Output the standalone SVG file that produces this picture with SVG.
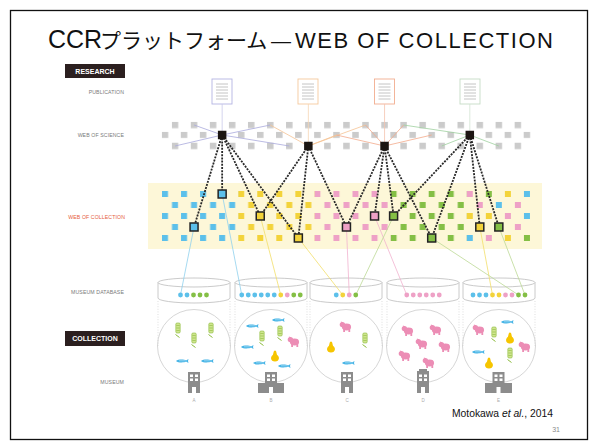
<svg xmlns="http://www.w3.org/2000/svg" xmlns:xlink="http://www.w3.org/1999/xlink" width="598" height="447" viewBox="0 0 598 447">
  <style>
    text { font-family: "Liberation Sans", Arial, sans-serif; }
    .lab { font-size: 5.2px; fill: #7a7a7a; text-anchor: end; letter-spacing: 0.1px; }
    .tag { font-size: 7px; font-weight: bold; fill: #fff; text-anchor: middle; }
    .tagbox { fill: #2b1f1f; }
    .doc rect { fill: #fff; stroke-width: 0.9; }
    .doc path { stroke: #b5b5b5; stroke-width: 0.8; fill: none; }
    .bn { fill: #1c1612; }
    .cn { stroke: #232323; stroke-width: 1.5; }
    .dash { stroke: #282828; stroke-width: 1.8; stroke-dasharray: 2 1.2; fill: none; }
    .thin { stroke-width: 0.8; fill: none; }
    .cyl { fill: none; stroke: #bdbdbd; stroke-width: 0.8; }
    .circ { fill: none; stroke: #cbcbcb; stroke-width: 0.8; }
    .dot { stroke: #d0d0d0; stroke-width: 0.7; stroke-dasharray: 1 1.6; }
    .bld { fill: #8c8c8c; }
    .win { fill: #fff; }
    .letter { font-size: 4.5px; fill: #aaa; text-anchor: middle; }
    .cB { fill: #5cc0ea; } .cY { fill: #f3d33a; } .cP { fill: #eea1c6; } .cG { fill: #84bf45; }
  </style>
  <defs>
    <!-- grey squares of the science grid -->
    <pattern id="gsA" patternUnits="userSpaceOnUse" x="171.75" y="121.75" width="19.05" height="21">
      <rect width="6.5" height="6.5" fill="#cbcbcb"/>
    </pattern>
    <pattern id="gsB" patternUnits="userSpaceOnUse" x="161.75" y="131.75" width="19.05" height="21">
      <rect width="6.5" height="6.5" fill="#cbcbcb"/>
    </pattern>
    <!-- coloured squares of the collection grid (odd + even rows per tile) -->
    <pattern id="pB" patternUnits="userSpaceOnUse" x="162" y="191" width="19.05" height="22">
      <rect width="6" height="6" fill="#5cc0ea"/><rect x="10" y="11" width="6" height="6" fill="#5cc0ea"/>
    </pattern>
    <pattern id="pY" patternUnits="userSpaceOnUse" x="162" y="191" width="19.05" height="22">
      <rect width="6" height="6" fill="#f3d33a"/><rect x="10" y="11" width="6" height="6" fill="#f3d33a"/>
    </pattern>
    <pattern id="pP" patternUnits="userSpaceOnUse" x="162" y="191" width="19.05" height="22">
      <rect width="6" height="6" fill="#eea1c6"/><rect x="10" y="11" width="6" height="6" fill="#eea1c6"/>
    </pattern>
    <pattern id="pG" patternUnits="userSpaceOnUse" x="162" y="191" width="19.05" height="22">
      <rect width="6" height="6" fill="#84bf45"/><rect x="10" y="11" width="6" height="6" fill="#84bf45"/>
    </pattern>
    <!-- specimen icons -->
    <g id="fish">
      <path d="M-6,0 C-4,-1.9 2,-1.9 4,-0.6 L6.5,-2.1 L6,0 L6.5,2.1 L4,0.6 C2,1.9 -4,1.9 -6,0Z" fill="#46b4e6"/>
      <path d="M-3,-0.2 H3" stroke="#bfe6f7" stroke-width="0.6"/>
    </g>
    <g id="plant">
      <rect x="-2.2" y="-6" width="4.4" height="10" rx="1.2" fill="#cfe58f" stroke="#8cbb3c" stroke-width="0.6"/>
      <path d="M-1.6,-3.5 H1.6 M-1.6,-1 H1.6 M-1.6,1.5 H1.6" stroke="#8cbb3c" stroke-width="0.6"/>
      <path d="M-2.5,5.5 L1.5,8.5" stroke="#8cbb3c" stroke-width="1"/>
    </g>
    <g id="pear">
      <path d="M0,-5.5 C1.6,-5.5 1.4,-2.2 2.2,-1 C4.8,0.6 4.8,5.5 0,5.5 C-4.8,5.5 -4.8,0.6 -2.2,-1 C-1.4,-2.2 -1.6,-5.5 0,-5.5Z" fill="#f6c500"/>
    </g>
    <g id="pig" fill="#ec8db5">
      <ellipse cx="0.5" cy="0" rx="4.6" ry="3.4"/>
      <circle cx="-3.6" cy="-2.4" r="2.7"/>
      <path d="M-5.2,-5.4 L-4.2,-3.2 L-2.8,-4.8Z"/>
      <rect x="-2.8" y="2" width="1.8" height="3"/>
      <rect x="2.4" y="2" width="1.8" height="3"/>
    </g>
  </defs>

  <!-- slide frame -->
  <rect x="10.5" y="10.5" width="577" height="429" fill="#fff" stroke="#111" stroke-width="1.3"/>

  <!-- title -->
  <g id="title">
    <text x="48" y="48" font-size="25" fill="#111">CCR</text>
    <text x="100" y="48" font-size="21" fill="#111" style="font-family:'Liberation Sans','Noto Sans CJK JP',sans-serif">プラットフォーム</text>
    <text x="271" y="48" font-size="20" fill="#111">—</text>
    <text x="295" y="48" font-size="22" fill="#111" textLength="258" lengthAdjust="spacing">WEB OF COLLECTION</text>
  </g>

  <!-- row labels -->
  <g id="labels">
    <rect class="tagbox" x="65" y="64" width="60" height="14"/>
    <text class="tag" x="95" y="73.6">RESEARCH</text>
    <text class="lab" x="124" y="94">PUBLICATION</text>
    <text class="lab" x="124" y="137">WEB OF SCIENCE</text>
    <text class="lab" x="125" y="219" style="fill:#e65e3c">WEB OF COLLECTION</text>
    <text class="lab" x="124" y="294">MUSEUM DATABASE</text>
    <rect class="tagbox" x="65" y="331" width="60" height="15"/>
    <text class="tag" x="95" y="341">COLLECTION</text>
    <text class="lab" x="124" y="384">MUSEUM</text>
  </g>

  <!-- publications -->
  <g id="publications">
    <g class="doc" id="pub1"><rect x="212" y="79" width="20" height="25" stroke="#b4b4e2"/><path d="M216,84h12M216,87h12M216,90h12M216,93h12M216,96h12M216,99h12"/></g>
    <g class="doc" id="pub2"><rect x="298" y="79" width="20" height="25" stroke="#f5c99d"/><path d="M302,84h12M302,87h12M302,90h12M302,93h12M302,96h12M302,99h12"/></g>
    <g class="doc" id="pub3"><rect x="374.5" y="79" width="20" height="25" stroke="#f2ae90"/><path d="M378.5,84h12M378.5,87h12M378.5,90h12M378.5,93h12M378.5,96h12M378.5,99h12"/></g>
    <g class="doc" id="pub4"><rect x="460" y="79" width="20" height="25" stroke="#c5dcc5"/><path d="M464,84h12M464,87h12M464,90h12M464,93h12M464,96h12M464,99h12"/></g>
  </g>

  <!-- web of science grid -->
  <g id="web-of-science">
    <rect x="171.75" y="121.75" width="350" height="28" fill="url(#gsA)"/>
    <rect x="161.75" y="131.75" width="369" height="6.5" fill="url(#gsB)"/>
  </g>

  <!-- web of collection band and grid -->
  <g id="web-of-collection">
    <rect x="148" y="183" width="394" height="66" fill="#fdf7d8"/>
    <rect x="162" y="191" width="76.2" height="50" fill="url(#pB)"/>
    <rect x="238.2" y="191" width="76.2" height="50" fill="url(#pY)"/>
    <rect x="314.4" y="191" width="76.2" height="50" fill="url(#pP)"/>
    <rect x="390.6" y="191" width="76.2" height="50" fill="url(#pG)"/>
    <rect class="cP" x="466.8" y="191" width="6" height="6"/>
    <rect class="cG" x="485.85" y="191" width="6" height="6"/>
    <rect class="cY" x="504.9" y="191" width="6" height="6"/>
    <rect class="cB" x="523.95" y="191" width="6" height="6"/>
    <rect class="cP" x="476.8" y="202" width="6" height="6"/>
    <rect class="cB" x="495.85" y="202" width="6" height="6"/>
    <rect class="cP" x="514.9" y="202" width="6" height="6"/>
    <rect class="cY" x="466.8" y="213" width="6" height="6"/>
    <rect class="cY" x="485.85" y="213" width="6" height="6"/>
    <rect class="cP" x="504.9" y="213" width="6" height="6"/>
    <rect class="cB" x="523.95" y="213" width="6" height="6"/>
    <rect class="cP" x="514.9" y="224" width="6" height="6"/>
    <rect class="cB" x="466.8" y="235" width="6" height="6"/>
    <rect class="cP" x="485.85" y="235" width="6" height="6"/>
    <rect class="cY" x="504.9" y="235" width="6" height="6"/>
    <rect class="cG" x="523.95" y="235" width="6" height="6"/>
  </g>

  <!-- museum databases -->
  <g id="databases">
    <g id="db-a"><ellipse class="cyl" cx="194" cy="282.5" rx="36" ry="4.5"/><path class="cyl" d="M158,282.5V298A36,5 0 0 0 230,298V282.5"/></g>
    <g id="db-b"><ellipse class="cyl" cx="271" cy="282.5" rx="36" ry="4.5"/><path class="cyl" d="M235,282.5V298A36,5 0 0 0 307,298V282.5"/></g>
    <g id="db-c"><ellipse class="cyl" cx="346" cy="282.5" rx="36" ry="4.5"/><path class="cyl" d="M310,282.5V298A36,5 0 0 0 382,298V282.5"/></g>
    <g id="db-d"><ellipse class="cyl" cx="423" cy="282.5" rx="36" ry="4.5"/><path class="cyl" d="M387,282.5V298A36,5 0 0 0 459,298V282.5"/></g>
    <g id="db-e"><ellipse class="cyl" cx="499" cy="282.5" rx="36" ry="4.5"/><path class="cyl" d="M463,282.5V298A36,5 0 0 0 535,298V282.5"/></g>
  </g>

  <!-- connectors -->
  <g id="connectors">
    <!-- publication to cited paper -->
    <path class="thin" stroke="#c8c8ea" d="M222.15,104V131"/>
    <path class="thin" stroke="#f7d6b4" d="M308.35,104V142"/>
    <path class="thin" stroke="#f5c4ae" d="M384.55,104V142"/>
    <path class="thin" stroke="#d2e4d2" d="M469.8,104V131"/>
    <!-- citation links inside the science grid -->
    <path class="thin" stroke="#a9a9dc" d="M222.15,135L194.05,125M222.15,135L175,146M222.15,135L270.25,125M222.15,135L289.3,146"/>
    <path class="thin" stroke="#f5c393" d="M308.35,146L270.25,125M308.35,146L336.45,135M308.35,146L365.5,125"/>
    <path class="thin" stroke="#f2a98a" d="M384.55,146L336.45,135M384.55,146L365.5,125M384.55,146L403.6,125M384.55,146L431.7,135"/>
    <path class="thin" stroke="#9fd09f" d="M469.8,135L403.6,125M469.8,135L441.7,146M469.8,135L498.85,146"/>
    <!-- science to collection -->
    <path class="dash" d="M222.15,135L222.15,194M222.15,135L194.05,227M222.15,135L260.25,216M222.15,135L298.35,238"/>
    <path class="dash" d="M308.35,146L260.25,216M308.35,146L298.35,238M308.35,146L346.45,227"/>
    <path class="dash" d="M384.55,146L346.45,227M384.55,146L374.55,216M384.55,146L393.6,216M384.55,146L431.7,238"/>
    <path class="dash" d="M469.8,135L393.6,216M469.8,135L431.7,238M469.8,135L479.8,227M469.8,135L498.85,227"/>
    <!-- collection to database records -->
    <path class="thin" stroke="#8fd0ee" d="M194.05,227L180.5,295M222.15,194L241.75,295"/>
    <path class="thin" stroke="#f2de6a" d="M260.25,216L280.75,295M298.35,238L342.75,295M479.8,227L492.5,295"/>
    <path class="thin" stroke="#f1b3cf" d="M346.45,227L349.25,295M374.55,216L406.75,295"/>
    <path class="thin" stroke="#bcd996" d="M393.6,216L355.75,295M431.7,238L518.5,295M498.85,227L525,295"/>
  </g>

  <!-- cited papers (black) -->
  <g id="wos-nodes">
    <rect class="bn" x="217.9" y="130.75" width="8.5" height="8.5"/>
    <rect class="bn" x="304.1" y="141.75" width="8.5" height="8.5"/>
    <rect class="bn" x="380.3" y="141.75" width="8.5" height="8.5"/>
    <rect class="bn" x="465.55" y="130.75" width="8.5" height="8.5"/>
  </g>

  <!-- cited specimens -->
  <g id="woc-nodes">
    <rect class="cn cB" x="218.15" y="190" width="8" height="8"/>
    <rect class="cn cB" x="190.05" y="223" width="8" height="8"/>
    <rect class="cn cY" x="256.25" y="212" width="8" height="8"/>
    <rect class="cn cY" x="294.35" y="234" width="8" height="8"/>
    <rect class="cn cP" x="342.45" y="223" width="8" height="8"/>
    <rect class="cn cP" x="370.55" y="212" width="8" height="8"/>
    <rect class="cn cG" x="389.6" y="212" width="8" height="8"/>
    <rect class="cn cG" x="427.7" y="234" width="8" height="8"/>
    <rect class="cn cY" x="475.8" y="223" width="8" height="8"/>
    <rect class="cn cG" x="494.85" y="223" width="8" height="8"/>
  </g>

  <!-- database records -->
  <g id="records">
    <circle class="cB" cx="180.5" cy="295" r="2.4"/><circle class="cB" cx="187" cy="295" r="2.4"/><circle class="cG" cx="193.5" cy="295" r="2.4"/><circle class="cG" cx="200" cy="295" r="2.4"/><circle class="cG" cx="206.5" cy="295" r="2.4"/>
    <circle class="cB" cx="241.75" cy="295" r="2.4"/><circle class="cB" cx="248.25" cy="295" r="2.4"/><circle class="cB" cx="254.75" cy="295" r="2.4"/><circle class="cB" cx="261.25" cy="295" r="2.4"/><circle class="cB" cx="267.75" cy="295" r="2.4"/><circle class="cB" cx="274.25" cy="295" r="2.4"/><circle class="cY" cx="280.75" cy="295" r="2.4"/><circle class="cP" cx="287.25" cy="295" r="2.4"/><circle class="cG" cx="293.75" cy="295" r="2.4"/><circle class="cG" cx="300.25" cy="295" r="2.4"/>
    <circle class="cB" cx="336.25" cy="295" r="2.4"/><circle class="cY" cx="342.75" cy="295" r="2.4"/><circle class="cP" cx="349.25" cy="295" r="2.4"/><circle class="cG" cx="355.75" cy="295" r="2.4"/>
    <circle class="cP" cx="406.75" cy="295" r="2.4"/><circle class="cP" cx="413.25" cy="295" r="2.4"/><circle class="cP" cx="419.75" cy="295" r="2.4"/><circle class="cP" cx="426.25" cy="295" r="2.4"/><circle class="cP" cx="432.75" cy="295" r="2.4"/><circle class="cP" cx="439.25" cy="295" r="2.4"/>
    <circle class="cB" cx="473" cy="295" r="2.4"/><circle class="cB" cx="479.5" cy="295" r="2.4"/><circle class="cB" cx="486" cy="295" r="2.4"/><circle class="cY" cx="492.5" cy="295" r="2.4"/><circle class="cY" cx="499" cy="295" r="2.4"/><circle class="cP" cx="505.5" cy="295" r="2.4"/><circle class="cP" cx="512" cy="295" r="2.4"/><circle class="cG" cx="518.5" cy="295" r="2.4"/><circle class="cG" cx="525" cy="295" r="2.4"/>
  </g>

  <!-- column guides -->
  <path class="dot" d="M158,301V346M230,301V346M235,301V346M307,301V346M310,301V346M382,301V346M387,301V346M459,301V346M463,301V346M535,301V346"/>

  <!-- collections -->
  <g id="collection-a">
    <circle class="circ" cx="194" cy="346" r="36.5"/>
    <use xlink:href="#plant" x="178" y="329"/><use xlink:href="#plant" x="194" y="339"/><use xlink:href="#plant" x="211" y="329"/>
    <use xlink:href="#fish" x="182" y="361"/><use xlink:href="#fish" x="207" y="361"/>
  </g>
  <g id="collection-b">
    <circle class="circ" cx="271" cy="346" r="36.5"/>
    <use xlink:href="#fish" x="278" y="320"/><use xlink:href="#fish" x="252" y="326"/><use xlink:href="#fish" x="247" y="347"/><use xlink:href="#fish" x="259" y="363"/><use xlink:href="#fish" x="284" y="366"/>
    <use xlink:href="#plant" x="262" y="337"/><use xlink:href="#plant" x="280" y="332"/>
    <use xlink:href="#pear" x="275" y="356"/>
    <use xlink:href="#pig" x="294" y="342"/>
  </g>
  <g id="collection-c">
    <circle class="circ" cx="346" cy="346" r="36.5"/>
    <use xlink:href="#pig" x="346" y="327"/>
    <use xlink:href="#pear" x="331" y="347"/>
    <use xlink:href="#plant" x="365" y="339"/>
    <use xlink:href="#fish" x="348" y="363"/>
  </g>
  <g id="collection-d">
    <circle class="circ" cx="423" cy="346" r="36.5"/>
    <use xlink:href="#pig" x="408" y="331"/><use xlink:href="#pig" x="436" y="330"/><use xlink:href="#pig" x="422" y="344"/>
    <use xlink:href="#pig" x="445" y="347"/><use xlink:href="#pig" x="405" y="356"/><use xlink:href="#pig" x="429" y="363"/>
  </g>
  <g id="collection-e">
    <circle class="circ" cx="499" cy="346" r="36.5"/>
    <use xlink:href="#fish" x="507" y="322"/><use xlink:href="#pig" x="479" y="330"/><use xlink:href="#plant" x="494" y="333"/>
    <use xlink:href="#pear" x="510" y="338"/><use xlink:href="#pig" x="525" y="347"/><use xlink:href="#fish" x="478" y="352"/>
    <use xlink:href="#plant" x="510" y="354"/><use xlink:href="#pear" x="489" y="363"/>
  </g>

  <!-- museums -->
  <g id="museum-a">
    <rect class="bld" x="188" y="372" width="12" height="21"/>
    <path class="win" d="M190,374.5h3v2.5h-3zM195,374.5h3v2.5h-3zM190,378.5h3v2.5h-3zM195,378.5h3v2.5h-3z"/>
    <rect class="win" x="192" y="387" width="4" height="6"/>
    <text class="letter" x="194" y="402">A</text>
  </g>
  <g id="museum-b">
    <rect class="bld" x="258" y="383" width="26" height="10"/>
    <rect class="bld" x="265" y="372" width="12" height="21"/>
    <path class="win" d="M267,374.5h3v2.5h-3zM272,374.5h3v2.5h-3zM267,378.5h3v2.5h-3zM272,378.5h3v2.5h-3z"/>
    <rect class="win" x="269" y="387" width="4" height="6"/>
    <text class="letter" x="271" y="402">B</text>
  </g>
  <g id="museum-c">
    <rect class="bld" x="341" y="372" width="12" height="21"/>
    <path class="win" d="M343,374.5h3v2.5h-3zM348,374.5h3v2.5h-3zM343,378.5h3v2.5h-3zM348,378.5h3v2.5h-3z"/>
    <rect class="win" x="345" y="387" width="4" height="6"/>
    <text class="letter" x="347" y="402">C</text>
  </g>
  <g id="museum-d">
    <path class="bld" d="M417,393V371H419V369H427V371H429V393Z"/>
    <path class="win" d="M419,374.5h3v2.5h-3zM424,374.5h3v2.5h-3zM419,378.5h3v2.5h-3zM424,378.5h3v2.5h-3z"/>
    <rect class="win" x="421" y="387" width="4" height="6"/>
    <text class="letter" x="423" y="402">D</text>
  </g>
  <g id="museum-e">
    <rect class="bld" x="485" y="383" width="27" height="10"/>
    <rect class="bld" x="492.5" y="372" width="12" height="21"/>
    <path class="win" d="M494.5,374.5h3v2.5h-3zM499.5,374.5h3v2.5h-3zM494.5,378.5h3v2.5h-3zM499.5,378.5h3v2.5h-3z"/>
    <rect class="win" x="496.5" y="387" width="4" height="6"/>
    <text class="letter" x="498.5" y="402">E</text>
  </g>

  <!-- citation and page number -->
  <text x="452" y="417" font-size="10.5" fill="#111" textLength="101" lengthAdjust="spacingAndGlyphs">Motokawa <tspan font-style="italic">et al.</tspan>, 2014</text>
  <text x="560" y="432" font-size="7" fill="#8a8a8a" text-anchor="end">31</text>
</svg>
